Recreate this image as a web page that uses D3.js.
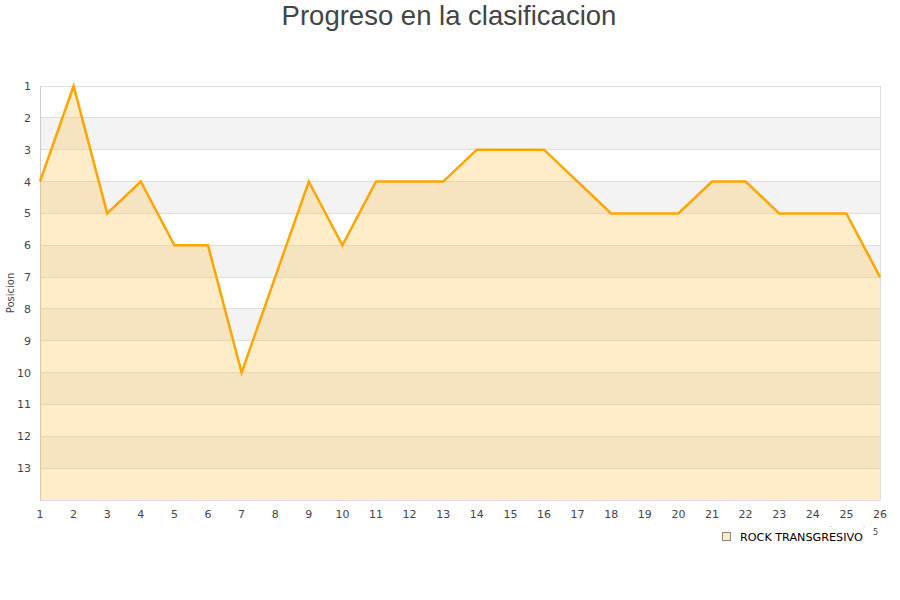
<!DOCTYPE html>
<html><head><meta charset="utf-8">
<script src="https://cdn.jsdelivr.net/npm/d3@7"></script>
<style>body{margin:0;background:#fff}</style>
</head><body>
<svg id="c" width="900" height="600"></svg>
<script>
const jornadas = [1,2,3,4,5,6,7,8,9,10,11,12,13,14,15,16,17,18,19,20,21,22,23,24,25,26];
const posiciones = [4,1,5,4,6,6,10,7,4,6,4,4,4,3,3,3,4,5,5,5,4,4,5,5,5,7];
const yTicks = [1,2,3,4,5,6,7,8,9,10,11,12,13];
const serieNombre = "ROCK TRANSGRESIVO";
const titulo = "Progreso en la clasificacion";
const ejeY = "Posicion";

const svg = d3.select("#c");
const m = {l:40, r:880, t:86, b:500};
const x = d3.scaleLinear().domain([1,26]).range([m.l, m.r]);
const y = d3.scaleLinear().domain([1,14]).range([m.t, m.b]);

// bands
const bands = d3.range(1,14);
svg.append("g").selectAll("rect").data(bands).join("rect")
  .attr("x", m.l).attr("width", m.r-m.l)
  .attr("y", d=>y(d)).attr("height", d=>y(d+1)-y(d))
  .attr("fill", d=> d%2===0 ? "#f3f3f3" : "#ffffff");
// grid
svg.append("g").selectAll("line").data(yTicks).join("line")
  .attr("x1", m.l).attr("x2", m.r).attr("y1", d=>y(d)).attr("y2", d=>y(d))
  .attr("stroke", "#dddddd").attr("stroke-width",1).attr("shape-rendering","crispEdges");
// border
svg.append("rect").attr("x", m.l).attr("y", m.t).attr("width", m.r-m.l).attr("height", m.b-m.t)
  .attr("fill","none").attr("stroke","#dddddd").attr("shape-rendering","crispEdges");
svg.append("line").attr("x1", m.l).attr("x2", m.l).attr("y1", m.t).attr("y2", m.b)
  .attr("stroke","#cccccc").attr("shape-rendering","crispEdges");

const data = jornadas.map((j,i)=>({j, p:posiciones[i]}));
svg.append("path").datum(data)
  .attr("d", d3.area().x(d=>x(d.j)).y0(y(14)).y1(d=>y(d.p)))
  .attr("fill", "#ffc04d").attr("fill-opacity", 0.3);
svg.append("path").datum(data)
  .attr("d", d3.line().x(d=>x(d.j)).y(d=>y(d.p)))
  .attr("fill","none").attr("stroke","#ffa500").attr("stroke-width",2.5).attr("stroke-linejoin","miter");

// axes labels
const font = "DejaVu Sans, sans-serif";
svg.append("g").selectAll("text").data(yTicks).join("text")
  .attr("x", 31).attr("y", d=>y(d)+4).attr("text-anchor","end")
  .attr("font-family", font).attr("font-size", 11).attr("fill","#444")
  .text(d=>d);
svg.append("g").selectAll("text").data(jornadas).join("text")
  .attr("x", d=>x(d)).attr("y", 518).attr("text-anchor","middle")
  .attr("font-family", font).attr("font-size", 11).attr("fill","#444")
  .text(d=>d);
svg.append("text").attr("transform","translate(14,293) rotate(-90)")
  .attr("text-anchor","middle").attr("font-family", font).attr("font-size", 10).attr("fill","#444")
  .text(ejeY);

svg.append("text").attr("x", 449).attr("y", 25).attr("text-anchor","middle")
  .attr("font-family","Liberation Sans, Arial, sans-serif").attr("font-size", 27.5).attr("fill","#444")
  .text(titulo);

// legend
svg.append("rect").attr("x", 722.5).attr("y", 532.5).attr("width", 8).attr("height", 8)
  .attr("fill","#fde9c6").attr("stroke","#888");
svg.append("text").attr("x", 740).attr("y", 540.5)
  .attr("font-family", font).attr("font-size", 11.2).attr("fill","#000")
  .text(serieNombre);
svg.append("text").attr("x", 873).attr("y", 535)
  .attr("font-family", font).attr("font-size", 8).attr("fill","#444").text("5");
svg.append("text").attr("x", 830).attr("y", 527)
  .attr("font-family", font).attr("font-size", 6).attr("fill","#444").text(".");
svg.append("text").attr("x", 863).attr("y", 527)
  .attr("font-family", font).attr("font-size", 6).attr("fill","#444").text(".");
</script>
</body></html>
